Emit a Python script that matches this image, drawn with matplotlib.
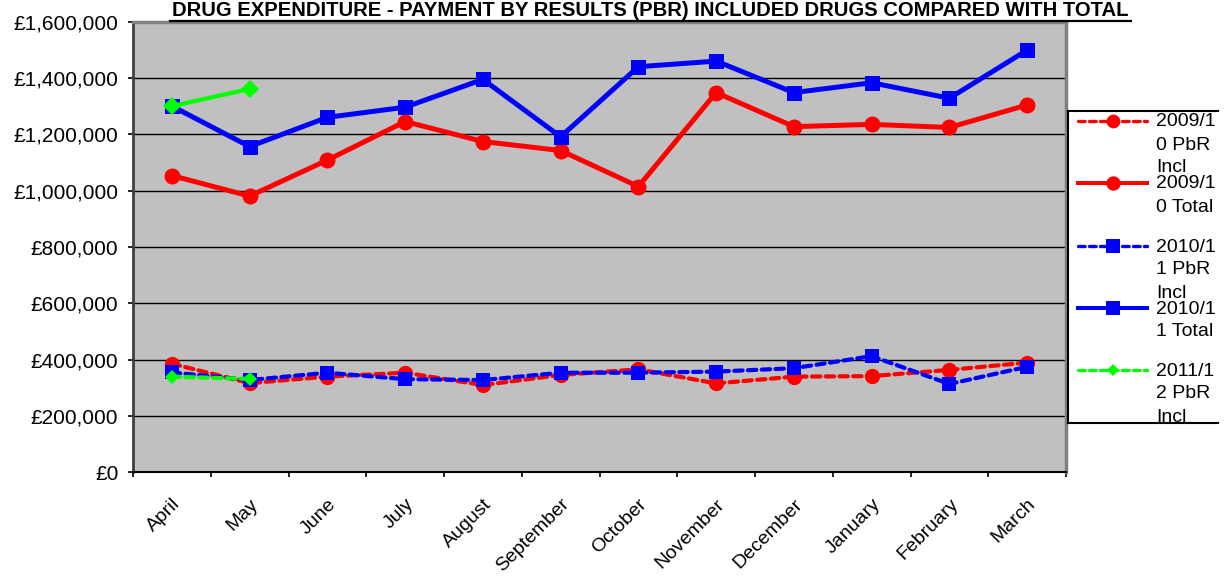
import matplotlib
matplotlib.use("Agg")
import matplotlib.pyplot as plt
from matplotlib.lines import Line2D
from matplotlib.patches import Rectangle
from matplotlib.ticker import FuncFormatter, MultipleLocator, FixedLocator

plt.rcParams['font.family'] = ['Liberation Sans', 'DejaVu Sans']

months = ["April", "May", "June", "July", "August", "September", "October",
          "November", "December", "January", "February", "March"]

pbr_2009 = [385000, 316000, 339000, 353000, 309000, 345000, 365000,
            315000, 339000, 341000, 363000, 389000]
total_2009 = [1054000, 981000, 1109000, 1246000, 1175000, 1143000, 1015000,
              1349000, 1228000, 1236000, 1225000, 1305000]
pbr_2010 = [354000, 327000, 353000, 330000, 327000, 353000, 353000,
            357000, 369000, 412000, 313000, 374000]
total_2010 = [1301000, 1157000, 1261000, 1297000, 1396000, 1192000, 1441000,
              1461000, 1349000, 1384000, 1329000, 1500000]
pbr_2011 = [339000, 331000]
total_2011 = [1301000, 1362000]

W, H = 1231, 577
fig = plt.figure(figsize=(W / 100, H / 100), dpi=100)
fig.patch.set_facecolor("white")

ax = fig.add_axes([133 / W, 1 - 472 / H, (1066 - 133) / W, (472 - 22) / H])
ax.set_facecolor("#c0c0c0")

x = list(range(len(months)))
dash = (0, (2.0, 1.3))

series = [
    (pbr_2009, "#ff0000", dash, "o", 11.0, 3.0, "2009/10 PbR Incl"),
    (total_2009, "#ff0000", "-", "o", 11.5, 3.6, "2009/10 Total"),
    (pbr_2010, "#0000ff", dash, "s", 10.5, 3.0, "2010/11 PbR Incl"),
    (total_2010, "#0000ff", "-", "s", 10.8, 3.6, "2010/11 Total"),
    (pbr_2011, "#00ff00", dash, "D", 7.0, 3.0, "2011/12 PbR Incl"),
    (total_2011, "#00ff00", "-", "D", 9.0, 3.0, "2011/12 Total"),
]
for vals, col, ls, mk, ms, lw, lab in series:
    ax.plot(x[:len(vals)], vals, color=col, linestyle=ls, marker=mk,
            markersize=ms, linewidth=lw, markeredgewidth=0, label=lab,
            solid_joinstyle="round", dash_capstyle="round", zorder=3)

ax.set_xlim(-0.5, len(months) - 0.5)
ax.set_ylim(0, 1600000)
ax.yaxis.set_major_locator(MultipleLocator(200000))
ax.yaxis.set_major_formatter(FuncFormatter(lambda v, p: "£{:,.0f}".format(v)))
ax.grid(axis="y", color="black", linewidth=1.0, zorder=1)
ax.set_axisbelow(True)

ax.xaxis.set_major_locator(FixedLocator(x))
ax.set_xticklabels(months, rotation=45, ha="right", va="top",
                   rotation_mode="anchor", fontsize=14)
ax.xaxis.set_minor_locator(FixedLocator([i - 0.5 for i in range(len(months) + 1)]))
ax.tick_params(axis="x", which="major", length=0, pad=17)
ax.tick_params(axis="x", which="minor", length=3.6, width=1.2, color="black",
               direction="out")
ax.tick_params(axis="y", length=3.6, width=1.2, color="black", pad=7,
               labelsize=15)

for side in ("top", "right"):
    ax.spines[side].set_color("#808080")
    ax.spines[side].set_linewidth(2.5)
ax.spines["left"].set_color("#404040")
ax.spines["left"].set_linewidth(2.0)
ax.spines["bottom"].set_color("black")
ax.spines["bottom"].set_linewidth(1.5)

# Title with underline
fig.text(650 / W, 1 - 10.5 / H,
         "DRUG EXPENDITURE - PAYMENT BY RESULTS (PBR) INCLUDED DRUGS COMPARED WITH TOTAL",
         ha="center", va="center", fontsize=14.6, fontweight="bold")
fig.add_artist(Line2D([170 / W, 1131 / W], [1 - 20.5 / H, 1 - 20.5 / H],
                      color="black", linewidth=1.6, transform=fig.transFigure))

# Legend box
lx0, ly0, lw_, lh_ = 1068, 111, 150, 312
lax = fig.add_axes([lx0 / W, 1 - (ly0 + lh_) / H, lw_ / W, lh_ / H])
lax.set_xlim(0, lw_)
lax.set_ylim(lh_, 0)
lax.set_facecolor("white")
lax.set_xticks([])
lax.set_yticks([])
for side in ("top", "bottom", "left"):
    lax.spines[side].set_color("black")
    lax.spines[side].set_linewidth(1.5)
lax.spines["right"].set_visible(False)

legend_rows = [
    (series[0], ["2009/1", "0 PbR", "Incl"]),
    (series[1], ["2009/1", "0 Total"]),
    (series[2], ["2010/1", "1 PbR", "Incl"]),
    (series[3], ["2010/1", "1 Total"]),
    (series[4], ["2011/1", "2 PbR", "Incl"]),
]
row_y = [10, 72, 135, 197, 259]
for i, ((s, lines), yy) in enumerate(zip(legend_rows, row_y)):
    vals, col, ls, mk, ms, lw, lab = s
    z = 2 + 2 * i
    lax.plot([10, 79], [yy, yy], color=col, linestyle=ls, linewidth=lw * 0.8,
             dash_capstyle="round", zorder=z)
    lax.plot([45], [yy], color=col, marker=mk, markersize=ms * 0.9,
             markeredgewidth=0, zorder=z)
    for k, t in enumerate(lines):
        lax.text(88, yy + 1 + 23 * k, t, ha="left", va="center",
                 fontsize=14, zorder=z, clip_on=True)
    # the next row's block hides the bottom of an overflowing third line
    if i + 1 < len(row_y):
        lax.add_patch(Rectangle((82, yy + 52), lw_ - 82, 10, facecolor="white",
                                edgecolor="none", zorder=z + 1))

fig.savefig("out.png", dpi=100, facecolor="white")
